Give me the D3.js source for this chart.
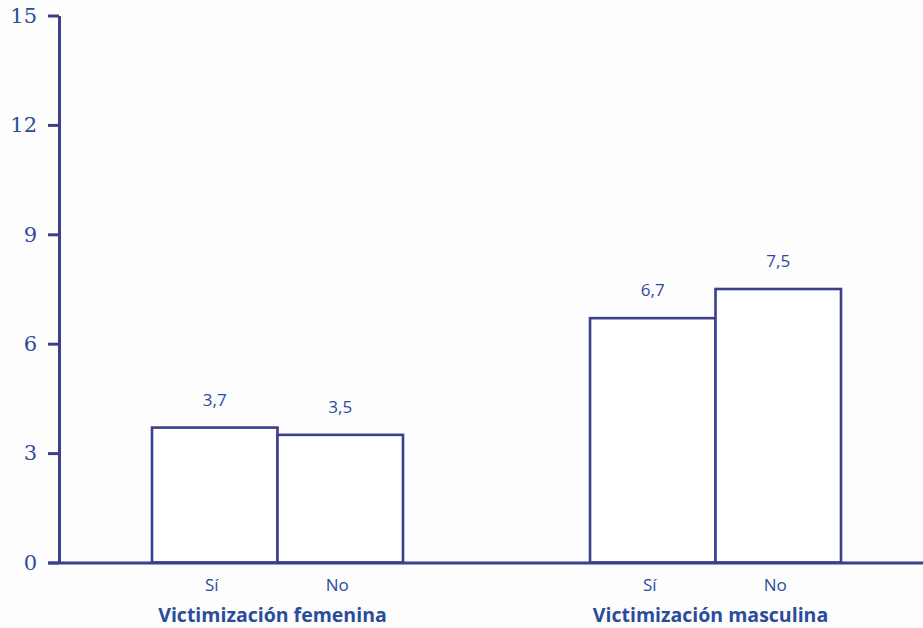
<!DOCTYPE html>
<html lang="es">
<head>
  <meta charset="UTF-8">
  <title>Victimización</title>
  <style>
    body { margin: 0; padding: 0; background: #fdfdfd; }
    svg { display: block; }
    .tick text { font-family: "DejaVu Serif", "Liberation Serif", serif; }
  </style>
  <script src="https://d3js.org/d3.v7.min.js"></script>
</head>
<body>
  <div id="chart"></div>
  <script>
    // data
    const groups = ["Victimización femenina", "Victimización masculina"];
    const answers = ["Sí", "No"];
    const valuesFem = [3.7, 3.5];
    const valuesMasc = [6.7, 7.5];
    const yTicks = [0, 3, 6, 9, 12, 15];

    const rows = [];
    groups.forEach((g, gi) => {
      const vals = gi === 0 ? valuesFem : valuesMasc;
      answers.forEach((a, ai) => rows.push({ group: g, answer: a, value: vals[ai] }));
    });

    const width = 923, height = 628;
    const lineColor = "#3b3f8c";
    const textColor = "#2b4c9b";

    const svg = d3.select("#chart").append("svg")
      .attr("width", width)
      .attr("height", height);

    const y = d3.scaleLinear().domain([0, 15]).range([562.5, 15.5]);

    const x0 = d3.scaleBand().domain(groups).range([152, 841])
      .paddingInner(0.427).paddingOuter(0);
    const x1 = d3.scaleBand().domain(answers).range([0, x0.bandwidth()]);

    // bars
    svg.append("g").selectAll("rect")
      .data(rows)
      .join("rect")
      .attr("x", d => x0(d.group) + x1(d.answer))
      .attr("y", d => y(d.value))
      .attr("width", x1.bandwidth())
      .attr("height", d => y(0) - y(d.value))
      .attr("fill", "#fff")
      .attr("stroke", lineColor)
      .attr("stroke-width", 2.6);

    // value labels
    svg.append("g").selectAll("text")
      .data(rows)
      .join("text")
      .attr("x", d => x0(d.group) + x1(d.answer) + x1.bandwidth() / 2)
      .attr("y", d => y(d.value) - 22)
      .attr("text-anchor", "middle")
      .attr("font-family", "'Open Sans', 'Noto Sans', sans-serif")
      .attr("font-size", 17)
      .attr("fill", textColor)
      .text(d => String(d.value).replace(".", ","));

    // y axis
    const yAxis = svg.append("g")
      .attr("transform", "translate(59,0)")
      .call(d3.axisLeft(y).tickValues(yTicks).tickSize(11).tickSizeOuter(0).tickPadding(11));
    yAxis.select(".domain").attr("stroke", lineColor).attr("stroke-width", 3);
    yAxis.selectAll(".tick line").attr("stroke", lineColor).attr("stroke-width", 3);
    yAxis.selectAll(".tick text")
      .attr("fill", textColor)
      .attr("font-size", 21);

    // x axis baseline
    const xAxis = svg.append("g")
      .attr("transform", `translate(0,${y(0)})`)
      .call(d3.axisBottom(d3.scaleLinear().range([48, width])).ticks(0).tickSizeOuter(0));
    xAxis.select(".domain").attr("stroke", lineColor).attr("stroke-width", 3);

    // answer labels
    svg.append("g").selectAll("text")
      .data(rows)
      .join("text")
      .attr("x", d => x0(d.group) + x1(d.answer) + x1.bandwidth() / 2 - 3)
      .attr("y", 591)
      .attr("text-anchor", "middle")
      .attr("font-family", "'Open Sans', 'Noto Sans', sans-serif")
      .attr("font-size", 17)
      .attr("fill", textColor)
      .text(d => d.answer);

    // group titles
    svg.append("g").selectAll("text")
      .data(groups)
      .join("text")
      .attr("x", d => x0(d) + x0.bandwidth() / 2 - 5)
      .attr("y", 622)
      .attr("text-anchor", "middle")
      .attr("font-family", "'Open Sans', 'Noto Sans', sans-serif")
      .attr("font-size", 19.5)
      .attr("font-weight", "bold")
      .attr("fill", textColor)
      .text(d => d);
  </script>
</body>
</html>
